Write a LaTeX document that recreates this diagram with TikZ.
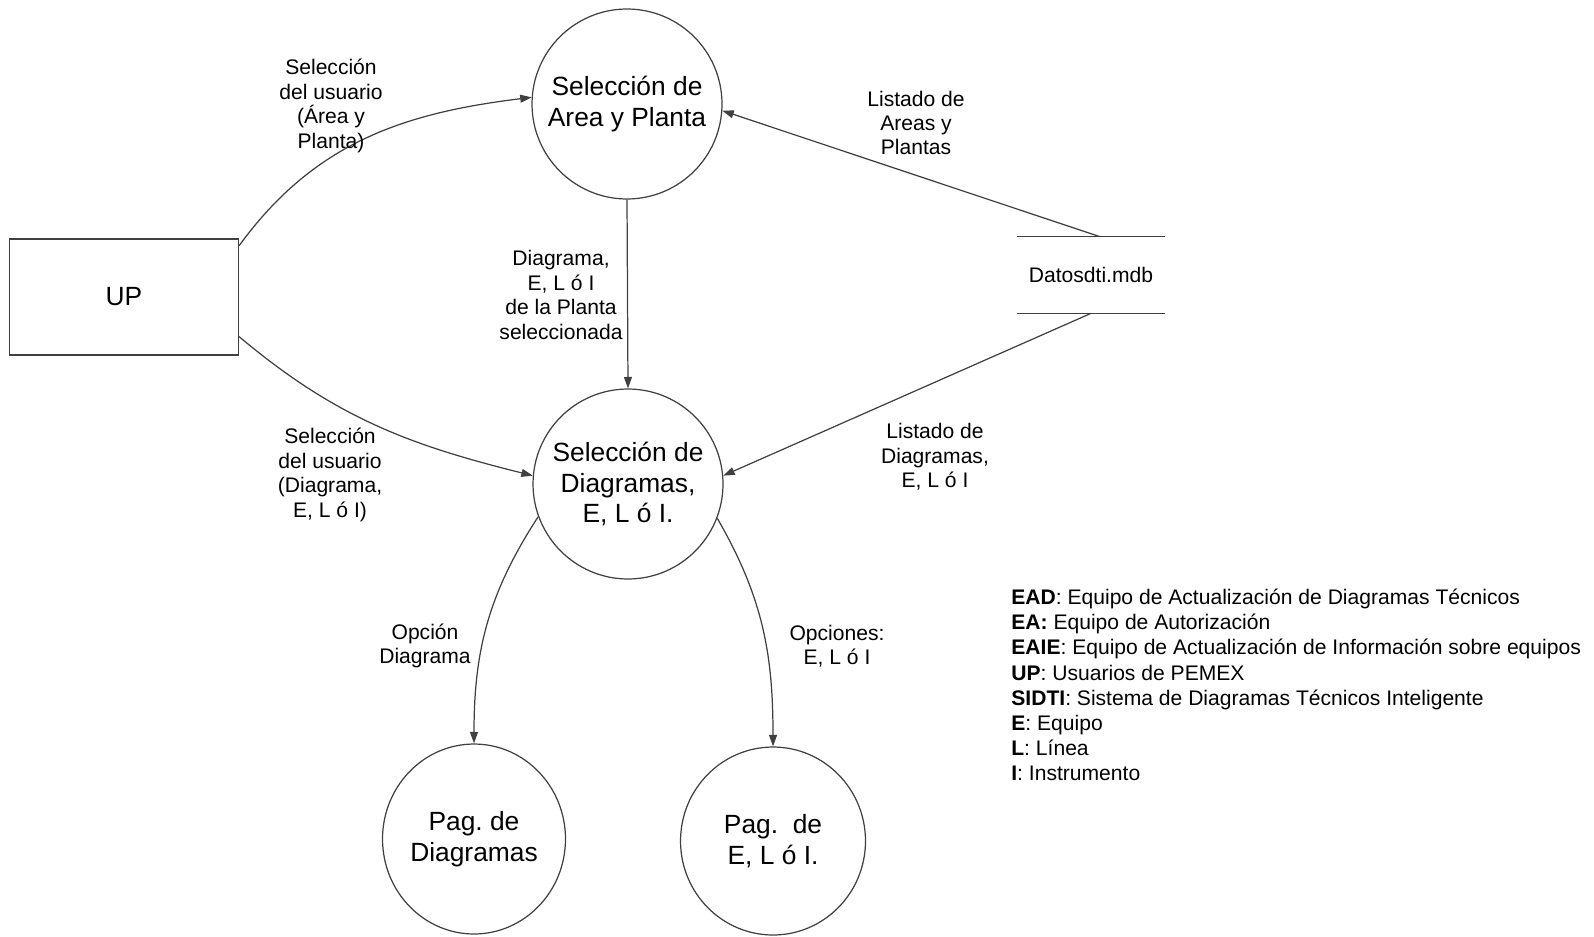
\documentclass[tikz,border=0pt]{standalone}
\usepackage{fontspec}
\setmainfont{Liberation Sans}
\usetikzlibrary{arrows.meta,shapes.geometric}
\frenchspacing

\begin{document}
\begin{tikzpicture}[x=0.02cm, y=0.02cm,
    proc/.style={draw=black!75, line width=0.7pt, circle, inner sep=0pt,
      minimum size=3.8cm, align=center, font=\fontsize{15}{17.6}\selectfont},
    page/.style={proc, ellipse, minimum width=3.66cm, minimum height=3.8cm},
    ext/.style={draw=black!75, line width=0.7pt, rectangle,
      minimum width=4.58cm, minimum height=2.32cm, font=\fontsize{15}{17.6}\selectfont},
    lbl/.style={align=center, inner sep=0pt, font=\fontsize{12}{13.9}\selectfont},
    flow/.style={draw=black!75, line width=0.7pt, -{Triangle[length=6.5pt, width=4.5pt]}}
  ]
  % Page size
  \useasboundingbox (0,0) rectangle (1594,-936);

  % External entity
  \node[ext] (up) at (124,-297) {UP};

  % Processes
  \node[proc] (selArea) at (627,-104) {Selección de\\Area y Planta};
  \node[proc] (selDiag) at (628,-484) {Selección de\\Diagramas,\\E, L ó I.};
  \node[page] (pagDiag) at (474,-839) {Pag. de\\Diagramas};
  \node[page, minimum width=3.7cm, minimum height=3.76cm] (pagELI) at (773,-841) {Pag.\ \ de\\E, L ó I.};

  % Data store
  \node[lbl, minimum width=2.94cm, minimum height=1.52cm] (datos) at (1091,-275) {Datosdti.mdb};
  \draw[draw=black!75, line width=0.7pt] (datos.north west) -- (datos.north east);
  \draw[draw=black!75, line width=0.7pt] (datos.south west) -- (datos.south east);

  % Flows from the user
  \draw[flow] (up.24) to[out=54, in=187] (selArea.176);
  \draw[flow] (up.-19) to[out=-40, in=166] (selDiag.175);

  % Flows between processes
  \draw[flow] (selArea.south) -- (selDiag.north);
  \draw[flow] (selDiag.200) to[out=237, in=90] (pagDiag.north);
  \draw[flow] (selDiag.339) to[out=-60, in=90] (pagELI.north);

  % Flows from the data store
  \draw[flow] ([xshift=5pt]datos.north) -- (selArea.356);
  \draw[flow] (datos.south) -- (selDiag.5);

  % Flow labels
  \node[lbl] (lblUsrArea) at (331,-106) {Selección\\del usuario\\(Área y\\Planta)};
  \node[lbl] (lblUsrDiag) at (330,-475) {Selección\\del usuario\\(Diagrama,\\E, L ó I)};
  \node[lbl] (lblPlanta) at (561,-295) {Diagrama,\\E, L ó I\\de la Planta\\seleccionada};
  \node[lbl] (lblListArea) at (916,-123) {Listado de\\Areas y\\Plantas};
  \node[lbl] (lblListDiag) at (935,-457) {Listado de\\Diagramas,\\E, L ó I};
  \node[lbl] (lblOpDiag) at (425,-646) {Opción\\Diagrama};
  \node[lbl] (lblOpELI) at (837,-646) {Opciones:\\E, L ó I};

  % Legend
  \node[anchor=west, align=left, inner sep=0pt, font=\fontsize{12}{14.3}\selectfont] (legend) at (1011,-685)
  {\textbf{EAD}: Equipo de Actualización de Diagramas Técnicos\\
   \textbf{EA:} Equipo de Autorización\\
   \textbf{EAIE}: Equipo de Actualización de Información sobre equipos\\
   \textbf{UP}: Usuarios de PEMEX\\
   \textbf{SIDTI}: Sistema de Diagramas Técnicos Inteligente\\
   \textbf{E}: Equipo\\
   \textbf{L}: Línea\\
   \textbf{I}: Instrumento};

\end{tikzpicture}
\end{document}
